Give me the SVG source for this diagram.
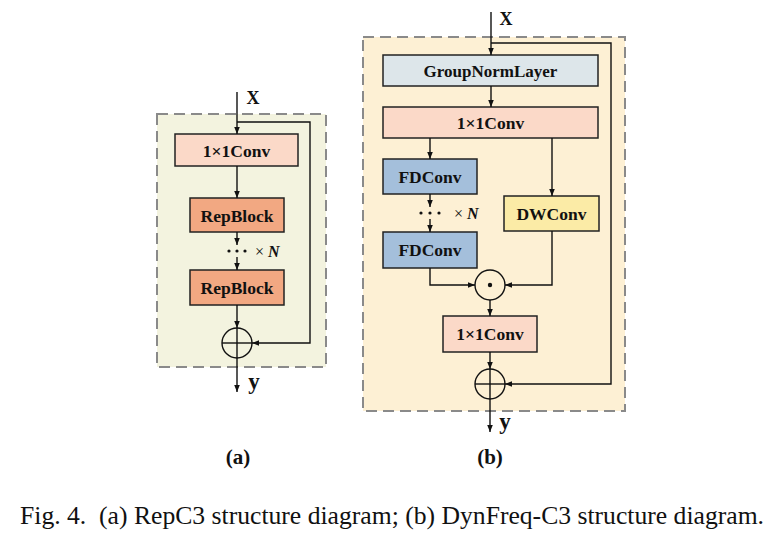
<svg xmlns="http://www.w3.org/2000/svg" width="783" height="537" viewBox="0 0 783 537">
<defs>
<marker id="ah" viewBox="0 0 10 10" refX="10" refY="5" markerWidth="7" markerHeight="7" markerUnits="userSpaceOnUse" orient="auto">
<path d="M0,1 L10,5 L0,9 Z" fill="#111"/>
</marker>
<style>
.lbl{font-family:"Liberation Serif","Times New Roman",serif;font-weight:bold;fill:#111;text-anchor:middle;}
.box{stroke:#222;stroke-width:1.5;}
.ln{fill:none;stroke:#111;stroke-width:1.4;}
.frame{stroke:#8a8a8a;stroke-width:2;stroke-dasharray:11,6;}
.cir{fill:none;stroke:#111;stroke-width:1.4;}
</style>
</defs>
<rect width="783" height="537" fill="#fff"/>

<!-- Panel (a) -->
<g id="panelA">
<rect class="frame" x="157" y="114" width="169" height="253" fill="#F3F3DF"/>
</g>
<g id="a_conv1"><rect class="box" x="175" y="134" width="123" height="32" fill="#FBD9C8"/><text class="lbl" x="236.5" y="156.5" font-size="17.5">1×1Conv</text></g>
<g id="a_rep1"><rect class="box" x="190" y="198" width="94" height="34" fill="#F2A882"/><text class="lbl" x="237" y="221.5" font-size="17.5">RepBlock</text></g>
<g id="a_rep2"><rect class="box" x="190" y="270" width="94" height="35" fill="#F2A882"/><text class="lbl" x="237" y="293.5" font-size="17.5">RepBlock</text></g>
<g id="a_plus"><circle class="cir" cx="237" cy="343" r="15"/><line class="ln" x1="222" y1="343" x2="252" y2="343"/><line class="ln" x1="237" y1="328" x2="237" y2="358"/></g>
<g id="a_text">
<text class="lbl" x="253" y="104" font-size="18">X</text>
<text class="lbl" x="254" y="389" font-size="23">y</text>
<g fill="#111"><circle cx="229" cy="251" r="1.6"/><circle cx="237" cy="251" r="1.6"/><circle cx="245" cy="251" r="1.6"/></g>
<text x="255" y="256.5" font-family="Liberation Serif, serif" font-size="16" fill="#111">× <tspan font-style="italic" font-weight="bold">N</tspan></text>
<text class="lbl" x="238" y="464" font-size="21">(a)</text>
</g>

<!-- Panel (b) -->
<g id="panelB">
<rect class="frame" x="363" y="37" width="262" height="374" fill="#FDF0D4"/>
</g>
<g id="b_gn"><rect class="box" x="383" y="55" width="215" height="31" fill="#DDE6EA"/><text class="lbl" x="490.5" y="76.5" font-size="17">GroupNormLayer</text></g>
<g id="b_conv1"><rect class="box" x="383" y="107" width="215" height="31" fill="#FBD9C8"/><text class="lbl" x="490.5" y="128.5" font-size="17.5">1×1Conv</text></g>
<g id="b_fd1"><rect class="box" x="383" y="159" width="94" height="35" fill="#A4BFDB"/><text class="lbl" x="430" y="182.5" font-size="17.5">FDConv</text></g>
<g id="b_fd2"><rect class="box" x="383" y="232" width="94" height="36" fill="#A4BFDB"/><text class="lbl" x="430" y="256" font-size="17.5">FDConv</text></g>
<g id="b_dw"><rect class="box" x="504" y="196" width="95" height="35" fill="#FBEBA6"/><text class="lbl" x="551.5" y="219.5" font-size="17.5">DWConv</text></g>
<g id="b_conv2"><rect class="box" x="443" y="316" width="94" height="36" fill="#FBD9C8"/><text class="lbl" x="490" y="340" font-size="17.5">1×1Conv</text></g>
<g id="b_dot"><circle class="cir" cx="490" cy="285" r="15"/><circle cx="490" cy="285" r="2.2" fill="#111"/></g>
<g id="b_plus"><circle class="cir" cx="490" cy="384" r="15"/><line class="ln" x1="475" y1="384" x2="505" y2="384"/><line class="ln" x1="490" y1="369" x2="490" y2="399"/></g>
<g id="b_text">
<text class="lbl" x="506" y="25" font-size="18">X</text>
<text class="lbl" x="505" y="429" font-size="23">y</text>
<g fill="#111"><circle cx="421" cy="213" r="1.6"/><circle cx="430" cy="213" r="1.6"/><circle cx="439" cy="213" r="1.6"/></g>
<text x="454" y="218.5" font-family="Liberation Serif, serif" font-size="16" fill="#111">× <tspan font-style="italic" font-weight="bold">N</tspan></text>
<text class="lbl" x="490" y="464" font-size="21">(b)</text>
</g>

<!-- Connectors -->
<g id="connectors">
<line class="ln" x1="237" y1="92" x2="237" y2="134" marker-end="url(#ah)"/>
<polyline class="ln" points="237,122 310,122 310,343 252,343" marker-end="url(#ah)"/>
<line class="ln" x1="237" y1="166" x2="237" y2="198" marker-end="url(#ah)"/>
<line class="ln" x1="237" y1="232" x2="237" y2="245" marker-end="url(#ah)"/>
<line class="ln" x1="237" y1="257" x2="237" y2="270" marker-end="url(#ah)"/>
<line class="ln" x1="237" y1="305" x2="237" y2="328" marker-end="url(#ah)"/>
<line class="ln" x1="237" y1="358" x2="237" y2="392" marker-end="url(#ah)"/>

<line class="ln" x1="491" y1="12" x2="491" y2="55" marker-end="url(#ah)"/>
<polyline class="ln" points="491,43 611,43 611,384 505,384" marker-end="url(#ah)"/>
<line class="ln" x1="491" y1="86" x2="491" y2="107" marker-end="url(#ah)"/>
<line class="ln" x1="430" y1="138" x2="430" y2="159" marker-end="url(#ah)"/>
<line class="ln" x1="552" y1="138" x2="552" y2="196" marker-end="url(#ah)"/>
<line class="ln" x1="430" y1="194" x2="430" y2="207" marker-end="url(#ah)"/>
<line class="ln" x1="430" y1="219" x2="430" y2="232" marker-end="url(#ah)"/>
<polyline class="ln" points="430,268 430,285 475,285" marker-end="url(#ah)"/>
<polyline class="ln" points="552,231 552,285 505,285" marker-end="url(#ah)"/>
<line class="ln" x1="490" y1="300" x2="490" y2="316" marker-end="url(#ah)"/>
<line class="ln" x1="490" y1="352" x2="490" y2="369" marker-end="url(#ah)"/>
<line class="ln" x1="490" y1="399" x2="490" y2="432" marker-end="url(#ah)"/>
</g>

<text x="20" y="524" font-family="Liberation Serif, serif" font-size="24.5" fill="#111" textLength="744" lengthAdjust="spacingAndGlyphs" xml:space="preserve">Fig. 4.  (a) RepC3 structure diagram; (b) DynFreq-C3 structure diagram.</text>
</svg>
